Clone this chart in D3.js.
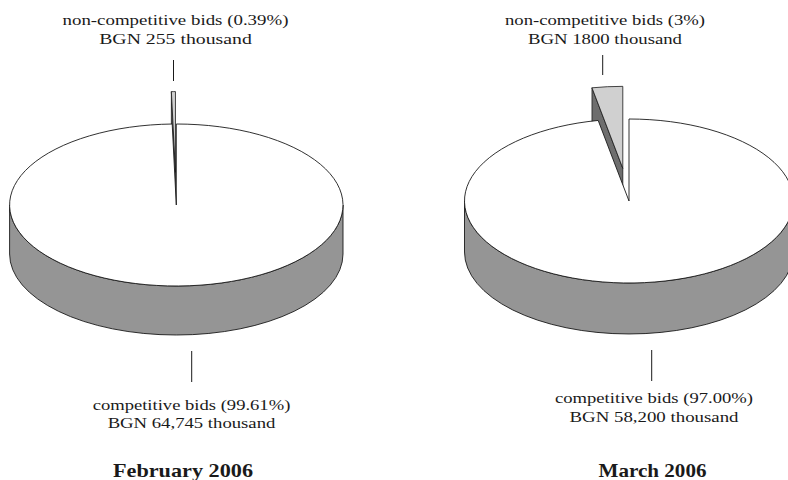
<!DOCTYPE html>
<html>
<head>
<meta charset="utf-8">
<script src="https://cdn.jsdelivr.net/npm/d3@7/dist/d3.min.js"></script>
<style>
  html, body { margin: 0; padding: 0; background: #fff; }
  svg { display: block; }
</style>
</head>
<body>
<svg id="chart" width="788" height="480"></svg>
<script>
// ---- data ----
const months = ["February 2006", "March 2006"];
const categories = ["competitive bids", "non-competitive bids"];
const competitiveValues = [64745, 58200];      // BGN thousand
const nonCompetitiveValues = [255, 1800];      // BGN thousand
const competitivePctLabels = ["99.61%", "97.00%"];
const nonCompetitivePctLabels = ["0.39%", "3%"];
const competitiveAmountLabels = ["64,745", "58,200"];
const nonCompetitiveAmountLabels = ["255", "1800"];

// ---- layout (positions / styles only) ----
const layout = [
  { cx: 176.3, cy: 205, rx: 166.7, ry: 81, h: 49,
    top: { x: 175.5, y1: 25, y2: 43.5, w1: 226, w2: 152.6, lx: 173.5, ly1: 60, ly2: 81 },
    bot: { x: 191.5, y1: 410, y2: 428.3, w1: 197.7, w2: 167.7, lx: 191.7, ly1: 351, ly2: 382 },
    title: { x: 183, y: 476.5, w: 140 } },
  { cx: 629, cy: 201, rx: 164.5, ry: 82, h: 51,
    top: { x: 605, y1: 25, y2: 43.5, w1: 200, w2: 154, lx: 602.7, ly1: 55, ly2: 75 },
    bot: { x: 654, y1: 403, y2: 422, w1: 198, w2: 169, lx: 651.7, ly1: 350, ly2: 381 },
    title: { x: 652.5, y: 476.5, w: 108 } }
];
const colors = { top: "#ffffff", side: "#959595", sliceTop: "#d0d0d0", sliceFace: "#6e6e6e", stroke: "#1a1a1a", text: "#1a1a1a" };
const explode = 0.4;
const fontFamily = "'Liberation Serif', 'Times New Roman', Times, 'DejaVu Serif Condensed', 'DejaVu Serif', serif";

const svg = d3.select("#chart");
const pie = d3.pie().sort(null).value(d => d);

function drawPie(i) {
  const L = layout[i];
  const arcs = pie([competitiveValues[i], nonCompetitiveValues[i]]);
  const g = svg.append("g");

  const P = (a, ox = 0, oy = 0, dz = 0) => [L.cx + ox + L.rx * Math.sin(a), L.cy + oy - L.ry * Math.cos(a) + dz];
  const C = (ox = 0, oy = 0, dz = 0) => [L.cx + ox, L.cy + oy + dz];
  const line = d3.line();

  // ---- exploded small slice (behind) ----
  const s = arcs[1];
  const mid = (s.startAngle + s.endAngle) / 2;
  const ox = explode * L.rx * Math.sin(mid);
  const oy = -explode * L.ry * Math.cos(mid);

  g.append("path")
    .attr("d", line([C(ox, oy), P(s.startAngle, ox, oy), P(s.startAngle, ox, oy, L.h), C(ox, oy, L.h)]) + "Z")
    .attr("fill", colors.sliceFace).attr("stroke", colors.stroke).attr("stroke-width", 0.8)
    .attr("stroke-linejoin", "round");

  {
    const a0 = P(s.startAngle, ox, oy), a1 = P(s.endAngle, ox, oy), c = C(ox, oy);
    const large = (s.endAngle - s.startAngle) > Math.PI ? 1 : 0;
    g.append("path")
      .attr("d", `M${c}L${a0}A${L.rx},${L.ry} 0 ${large} 1 ${a1}Z`)
      .attr("fill", colors.sliceTop).attr("stroke", colors.stroke).attr("stroke-width", 0.8)
      .attr("stroke-linejoin", "round");
  }

  // ---- main slice ----
  const m = arcs[0];
  {
    const r0 = P(Math.PI / 2), l0 = P(3 * Math.PI / 2);
    const r1 = P(Math.PI / 2, 0, 0, L.h), l1 = P(3 * Math.PI / 2, 0, 0, L.h);
    g.append("path")
      .attr("d", `M${r0}A${L.rx},${L.ry} 0 0 1 ${l0}L${l1}A${L.rx},${L.ry} 0 0 0 ${r1}Z`)
      .attr("fill", colors.side).attr("stroke", colors.stroke).attr("stroke-width", 0.9);
  }
  {
    const a0 = P(m.startAngle), a1 = P(m.endAngle), c = C();
    const large = (m.endAngle - m.startAngle) > Math.PI ? 1 : 0;
    g.append("path")
      .attr("d", `M${c}L${a0}A${L.rx},${L.ry} 0 ${large} 1 ${a1}Z`)
      .attr("fill", colors.top).attr("stroke", colors.stroke).attr("stroke-width", 0.9);
  }

  // ---- leader lines ----
  g.append("line").attr("x1", L.top.lx).attr("x2", L.top.lx).attr("y1", L.top.ly1).attr("y2", L.top.ly2)
    .attr("stroke", colors.stroke).attr("stroke-width", 1);
  g.append("line").attr("x1", L.bot.lx).attr("x2", L.bot.lx).attr("y1", L.bot.ly1).attr("y2", L.bot.ly2)
    .attr("stroke", colors.stroke).attr("stroke-width", 1);

  // ---- labels ----
  const label = (x, y, str, size, weight, w) => {
    g.append("text").attr("x", x).attr("y", y).attr("text-anchor", "middle")
      .attr("font-family", fontFamily).attr("fill", colors.text)
      .attr("font-size", size).attr("font-weight", weight)
      .attr("textLength", w).attr("lengthAdjust", "spacingAndGlyphs")
      .text(str);
  };
  label(L.top.x, L.top.y1, `${categories[1]} (${nonCompetitivePctLabels[i]})`, 15.5, "normal", L.top.w1);
  label(L.top.x, L.top.y2, `BGN ${nonCompetitiveAmountLabels[i]} thousand`, 15.5, "normal", L.top.w2);
  label(L.bot.x, L.bot.y1, `${categories[0]} (${competitivePctLabels[i]})`, 15.5, "normal", L.bot.w1);
  label(L.bot.x, L.bot.y2, `BGN ${competitiveAmountLabels[i]} thousand`, 15.5, "normal", L.bot.w2);
  label(L.title.x, L.title.y, months[i], 19, "bold", L.title.w);
}

months.forEach((_, i) => drawPie(i));
</script>
</body>
</html>
